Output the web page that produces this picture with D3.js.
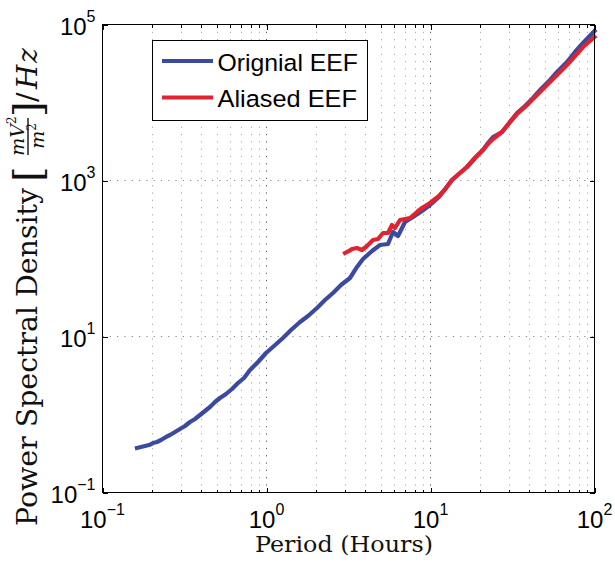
<!DOCTYPE html>
<html><head><meta charset="utf-8">
<script src="https://cdn.jsdelivr.net/npm/d3@7"></script>
<style>body{margin:0;background:#fff}svg{display:block}</style>
</head><body>
<svg id="c" width="615" height="567"></svg>
<script>
// ---- data ----
const seriesNames = ["Orignial EEF", "Aliased EEF"];
const blueHours = [0.1623,0.1717,0.1816,0.1921,0.2032,0.2149,0.2274,0.2439,0.2580,0.2767,0.2969,0.3184,0.3416,0.3665,0.3931,0.4217,0.4523,0.4852,0.5205,0.5663,0.6162,0.6704,0.7293,0.7934,0.8878,0.9930,1.111,1.260,1.411,1.601,1.791,2.032,2.274,2.544,2.846,3.229,3.563,3.877,4.399,4.921,5.506,5.907,6.337,6.993,7.822,8.878,9.930,11.27,12.43,13.52,15.13,16.69,18.67,20.90,22.42,24.05,27.29,30.53,33.69,37.69,42.17,47.18,53.55,59.90,67.97,76.05,85.09,100];
const bluePSD = [0.372,0.383,0.395,0.406,0.431,0.444,0.471,0.515,0.546,0.596,0.652,0.712,0.801,0.876,0.985,1.109,1.248,1.446,1.628,1.832,2.123,2.534,2.938,3.720,4.711,6.144,7.553,9.567,12.12,15.35,18.32,23.20,29.38,36.12,45.74,56.23,77.82,98.53,124.8,149.0,153.5,218.6,194.3,293.8,340.4,406.4,485.3,614.4,801.2,1015,1248,1490,1943,2461,3026,3612,4187,5623,7334,9019,11420,14895,19430,25343,33059,44413,57918,82540];
const redHours = [3.011,3.184,3.321,3.563,3.822,4.101,4.461,4.785,5.133,5.506,5.824,6.075,6.518,6.993,7.499,8.274,8.878,9.930,11.27,12.43,13.52,15.13,16.69,18.67,20.90,22.42,24.05,27.29,30.53,33.69,37.69,42.17,47.18,53.55,59.90,67.97,76.05,85.09,100];
const redPSD = [117.6,124.8,132.4,136.3,128.5,144.6,172.7,177.8,212.3,212.3,268.8,246.1,311.6,320.9,330.6,394.6,444.1,514.6,632.8,801.2,1015,1248,1490,1943,2461,2938,3405,4187,5623,7120,8756,11089,14045,18320,23197,30256,39456,51455,69140];
const xTickExps = [-1, 0, 1, 2];
const yTickExps = [-1, 1, 3, 5];

// ---- layout ----
const svg = d3.select("#c");
const L = 102.5, R = 594.5, T = 24.5, B = 492.5;
const x = d3.scaleLog().domain([0.1, 100]).range([L, R]);
const y = d3.scaleLog().domain([0.1, 1e5]).range([B, T]);
const blue = "#3A4A9F", red = "#E3222F";

const xMajor = xTickExps.map(e => Math.pow(10, e));
const xMinor = [];
[0.1, 1, 10].forEach(d => { for (let k = 2; k <= 9; k++) xMinor.push(k * d); });
const yMajor = yTickExps.map(e => Math.pow(10, e));

// grid
const grid = svg.append("g");
grid.selectAll(".vm").data(xMinor).join("line")
  .attr("x1", d => Math.round(x(d)) + 0.5).attr("x2", d => Math.round(x(d)) + 0.5)
  .attr("y1", T).attr("y2", B)
  .attr("stroke", "#a8a8a8").attr("stroke-width", 1).attr("stroke-dasharray", "1.2,6.1");
grid.selectAll(".vM").data(xMajor).join("line")
  .attr("x1", d => Math.round(x(d) - 0.5) + 0.5).attr("x2", d => Math.round(x(d) - 0.5) + 0.5)
  .attr("y1", T).attr("y2", B)
  .attr("stroke", "#555").attr("stroke-width", 1).attr("stroke-dasharray", "1.2,6.1");
grid.selectAll(".hM").data(yMajor.slice(1, -1)).join("line")
  .attr("x1", L).attr("x2", R)
  .attr("y1", d => Math.round(y(d) - 0.5) + 0.5).attr("y2", d => Math.round(y(d) - 0.5) + 0.5)
  .attr("stroke", "#888").attr("stroke-width", 1).attr("stroke-dasharray", "1.2,6.1");

// curves
const line = d3.line().x(d => x(d[0])).y(d => y(d[1]));
svg.append("path").datum(d3.zip(blueHours, bluePSD)).attr("d", line)
  .attr("fill", "none").attr("stroke", blue).attr("stroke-width", 4.2)
  .attr("stroke-linejoin", "round").attr("stroke-linecap", "square");
svg.append("path").datum(d3.zip(redHours, redPSD)).attr("d", line)
  .attr("fill", "none").attr("stroke", red).attr("stroke-width", 4.2)
  .attr("stroke-linejoin", "round").attr("stroke-linecap", "square");

// axes (ticks inward)
const ax = svg.append("g").attr("shape-rendering", "crispEdges");
function addAxis(gen, tr) {
  const g = ax.append("g").attr("transform", tr).call(gen);
  g.select(".domain").remove();
  g.selectAll(".tick line").attr("stroke", "#000");
  g.selectAll("text").remove();
}
addAxis(d3.axisBottom(x).tickValues(xMajor).tickSize(-5).tickFormat(""), `translate(0,${B})`);
addAxis(d3.axisBottom(x).tickValues(xMinor).tickSize(-3).tickFormat(""), `translate(0,${B})`);
addAxis(d3.axisTop(x).tickValues(xMajor).tickSize(-5).tickFormat(""), `translate(0,${T})`);
addAxis(d3.axisTop(x).tickValues(xMinor).tickSize(-3).tickFormat(""), `translate(0,${T})`);
addAxis(d3.axisLeft(y).tickValues(yMajor).tickSize(-5).tickFormat(""), `translate(${L},0)`);
addAxis(d3.axisRight(y).tickValues(yMajor).tickSize(-5).tickFormat(""), `translate(${R},0)`);
ax.append("rect").attr("x", L).attr("y", T).attr("width", R - L).attr("height", B - T)
  .attr("fill", "none").attr("stroke", "#000").attr("stroke-width", 1);

// tick labels
const sans = "'Liberation Sans', Arial, sans-serif";
xTickExps.forEach(e => {
  const t = svg.append("text").attr("x", x(Math.pow(10, e))).attr("y", B + 35)
    .attr("text-anchor", "middle").attr("font-family", sans).attr("font-size", 24);
  t.append("tspan").text("10");
  t.append("tspan").attr("dy", -12.5).attr("font-size", 16).text(e < 0 ? "\u2212" + (-e) : e);
});
yTickExps.forEach(e => {
  const t = svg.append("text").attr("x", 95.5).attr("y", y(Math.pow(10, e)) + 10)
    .attr("text-anchor", "end").attr("font-family", sans).attr("font-size", 24);
  t.append("tspan").text("10");
  t.append("tspan").attr("dy", -12.5).attr("font-size", 16).text(e < 0 ? "\u2212" + (-e) : e);
});

// axis labels
const serif = "'DejaVu Serif', serif";
svg.append("text").attr("x", 344).attr("y", 552).attr("text-anchor", "middle")
  .attr("font-family", serif).attr("font-size", 21.5).attr("fill", "#111")
  .attr("textLength", 178).attr("lengthAdjust", "spacingAndGlyphs")
  .text("Period (Hours)");

const yl = svg.append("g").attr("transform", "translate(37,526) rotate(-90)")
  .attr("font-family", serif).attr("fill", "#111");
yl.append("text").attr("x", 0).attr("y", 0).attr("font-size", 28)
  .attr("textLength", 338).attr("lengthAdjust", "spacingAndGlyphs").text("Power Spectral Density");
yl.append("text").attr("x", 344).attr("y", 4).attr("font-size", 40).attr("font-weight", "normal").text("[");
const num = yl.append("text").attr("x", 390).attr("y", -13).attr("text-anchor", "middle")
  .attr("font-size", 19).attr("font-style", "italic");
num.append("tspan").text("mV");
num.append("tspan").attr("dy", -8).attr("font-size", 12).attr("font-style", "normal").text("2");
yl.append("line").attr("x1", 371).attr("x2", 408).attr("y1", -9).attr("y2", -9)
  .attr("stroke", "#111").attr("stroke-width", 1.4);
const den = yl.append("text").attr("x", 390).attr("y", 7).attr("text-anchor", "middle")
  .attr("font-size", 19).attr("font-style", "italic");
den.append("tspan").text("m");
den.append("tspan").attr("dy", -8).attr("font-size", 12).attr("font-style", "normal").text("2");
yl.append("text").attr("x", 409).attr("y", 4).attr("font-size", 40).text("]");
yl.append("text").attr("x", 424).attr("y", 0).attr("font-size", 28).text("/");
yl.append("text").attr("x", 437).attr("y", 0).attr("font-size", 28).attr("font-style", "italic").text("H");
yl.append("text").attr("x", 463).attr("y", 0).attr("font-size", 28).attr("font-style", "italic").text("z");

// legend
const lg = svg.append("g");
lg.append("rect").attr("x", 152.5).attr("y", 40.5).attr("width", 215).attr("height", 79.5)
  .attr("fill", "#fff").attr("stroke", "#000").attr("stroke-width", 1).attr("shape-rendering", "crispEdges");
const legRows = [{name: seriesNames[0], color: blue, yy: 61, tl: 140.5},
                 {name: seriesNames[1], color: red, yy: 97.5, tl: 139.5}];
legRows.forEach(r => {
  lg.append("line").attr("x1", 162).attr("x2", 213).attr("y1", r.yy).attr("y2", r.yy)
    .attr("stroke", r.color).attr("stroke-width", 4.2);
  lg.append("text").attr("x", 217.5).attr("y", r.yy + 9.5).attr("font-family", sans)
    .attr("font-size", 24.5).attr("textLength", r.tl).attr("lengthAdjust", "spacingAndGlyphs").text(r.name);
});
</script>
</body></html>
